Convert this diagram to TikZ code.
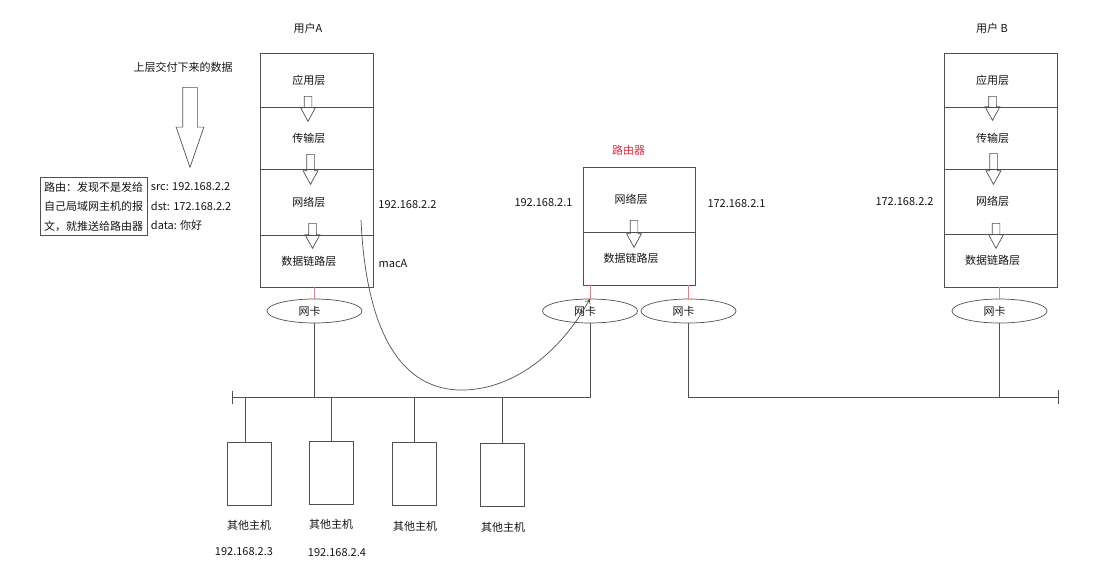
\documentclass[tikz,border=0pt]{standalone}
\usepackage{fontspec}
\setmainfont{Noto Sans CJK SC}
\usetikzlibrary{shapes.geometric, shapes.arrows, positioning, calc, arrows.meta}

\definecolor{linegray}{RGB}{80,80,80}
\definecolor{textgray}{RGB}{20,20,20}
\definecolor{nicred}{RGB}{225,130,140}
\definecolor{routerred}{RGB}{215,45,65}

\begin{document}
\begin{tikzpicture}[
        x=1pt, y=-1pt,
        >={To[length=5pt,width=6pt]},
        font=\fontsize{11}{13}\selectfont,
        every node/.style={text=textgray},
        % 协议栈的每一层
        layer/.style={rectangle, draw=linegray, line width=0.8pt, minimum width=113pt, inner sep=0pt, outer sep=0pt, execute at begin node={\hspace*{-16pt}}},
        downarrow/.style={single arrow, draw=linegray, line width=0.7pt, shape border rotate=270, inner sep=3.5pt, single arrow head extend=3.5pt, single arrow tip angle=57, anchor=tail},
        nic/.style={ellipse, draw=linegray, line width=0.7pt, minimum width=95pt, minimum height=24pt, inner sep=0pt, execute at begin node={\hspace*{-10pt}}},
        host/.style={rectangle, draw=linegray, line width=0.8pt, minimum width=44pt, minimum height=63pt},
        wire/.style={draw=linegray, line width=0.8pt},
        nicline/.style={draw=nicred, line width=0.8pt},
        notetext/.style={align=left, font=\fontsize{11}{19.5}\selectfont}
    ]
    \useasboundingbox (0,0) rectangle (1110,584);

    % --- 上层数据 ---
    \node (upper) at (183,67) {上层交付下来的数据};
    \node[downarrow, inner sep=7pt, single arrow head extend=6.5pt, single arrow tip angle=38, minimum height=80pt] (bigarrow) at (190,87) {};
    \node[draw=linegray, line width=0.8pt, notetext, inner xsep=4pt, inner ysep=4pt] (note) at (93.5,206.5) {路由：发现不是发给\\自己局域网主机的报\\文，就推送给路由器};
    \node[notetext, right=0pt of note] (pkt) {src: 192.168.2.2\\dst: 172.168.2.2\\data: 你好};

    % --- 用户A ---
    \node (userA) at (308,28) {用户A};
    \node[layer, minimum height=54pt, anchor=north] (a1) at (316.75,53) {应用层};
    \node[layer, minimum height=62pt, below=0pt of a1] (a2) {传输层};
    \node[layer, minimum height=66pt, below=0pt of a2] (a3) {网络层};
    \node[layer, minimum height=52pt, below=0pt of a3] (a4) {数据链路层};
    \node[downarrow, minimum height=25pt] (arA1) at (308,96) {};
    \node[downarrow, minimum height=30pt] (arA2) at (310.5,154) {};
    \node[downarrow, minimum height=25pt] (arA3) at (312.5,223) {};
    \node (ipA) at (407.5,205) {192.168.2.2};
    \node (macA) at (393,264) {macA};

    % --- 路由器 ---
    \node[text=routerred] (rlabel) at (628.5,150) {路由器};
    \node[layer, minimum width=112pt, minimum height=65pt, anchor=north] (r1) at (639,167) {网络层};
    \node[layer, minimum width=112pt, minimum height=53pt, below=0pt of r1] (r2) {数据链路层};
    \node[downarrow, minimum height=27pt] (arR) at (634,220) {};
    \node (ipR1) at (543.5,203) {192.168.2.1};
    \node (ipR2) at (736.5,204) {172.168.2.1};

    % --- 用户B ---
    \node (userB) at (992,28) {用户 B};
    \node[layer, minimum height=54pt, anchor=north] (b1) at (1000.5,53) {应用层};
    \node[layer, minimum height=62pt, below=0pt of b1] (b2) {传输层};
    \node[layer, minimum height=65pt, below=0pt of b2] (b3) {网络层};
    \node[layer, minimum height=53pt, below=0pt of b3] (b4) {数据链路层};
    \node[downarrow, minimum height=24pt] (arB1) at (992.5,96) {};
    \node[downarrow, minimum height=31pt] (arB2) at (993.5,153) {};
    \node[downarrow, minimum height=25pt] (arB3) at (996,223) {};
    \node (ipB) at (904.5,202) {172.168.2.2};

    % --- 网卡 ---
    \node[nic] (nicA) at (314.5,311) {网卡};
    \node[nic] (nicR1) at (590,311) {网卡};
    \node[nic] (nicR2) at (688.5,311) {网卡};
    \node[nic] (nicB) at (999.5,311) {网卡};
    \draw[nicline] (nicA.north |- a4.south) -- (nicA.north);
    \draw[nicline] (nicR1.north |- r2.south) -- (nicR1.north);
    \draw[nicline] (nicR2.north |- r2.south) -- (nicR2.north);
    \draw[nicline] (nicB.north |- b4.south) -- (nicB.north);

    % --- 总线 ---
    \coordinate (busL) at (232,397);
    \coordinate (busE) at (1058,397);
    \draw[wire] (nicR1.south) |- (busL);
    \draw[wire] (nicA.south) -- (nicA.south |- busL);
    \draw[wire] ([yshift=6.5pt]busL) -- ([yshift=-6.5pt]busL);
    \draw[wire] (nicR2.south) |- (busE);
    \draw[wire] (nicB.south) -- (nicB.south |- busE);
    \draw[wire] ([yshift=7pt]busE) -- ([yshift=-7pt]busE);

    % --- 其他主机 ---
    \node[host] (h1) at (249,473.5) {};
    \node[host] (h2) at (331.5,473) {};
    \node[host] (h3) at (414.5,474) {};
    \node[host] (h4) at (502.5,475) {};
    \coordinate (h1top) at ([xshift=-4pt]h1.north);
    \draw[wire] (h1top) -- (h1top |- busL);
    \draw[wire] (h2.north) -- (h2.north |- busL);
    \draw[wire] (h3.north) -- (h3.north |- busL);
    \draw[wire] (h4.north) -- (h4.north |- busL);
    \node (h1lbl) at (249,525) {其他主机};
    \node (h2lbl) at (331,524) {其他主机};
    \node (h3lbl) at (415,526) {其他主机};
    \node (h4lbl) at (503,527) {其他主机};
    \node (h1ip) at (244,552) {192.168.2.3};
    \node (h2ip) at (337,553) {192.168.2.4};

    % --- 报文送往路由器 ---
    \coordinate (sendA) at (361,220);
    \draw[wire, line width=0.7pt, ->] (sendA) .. controls (366,330) and (400,392) .. (465,390) .. controls (520,388) and (565,345) .. (nicR1.north);

\end{tikzpicture}
\end{document}
